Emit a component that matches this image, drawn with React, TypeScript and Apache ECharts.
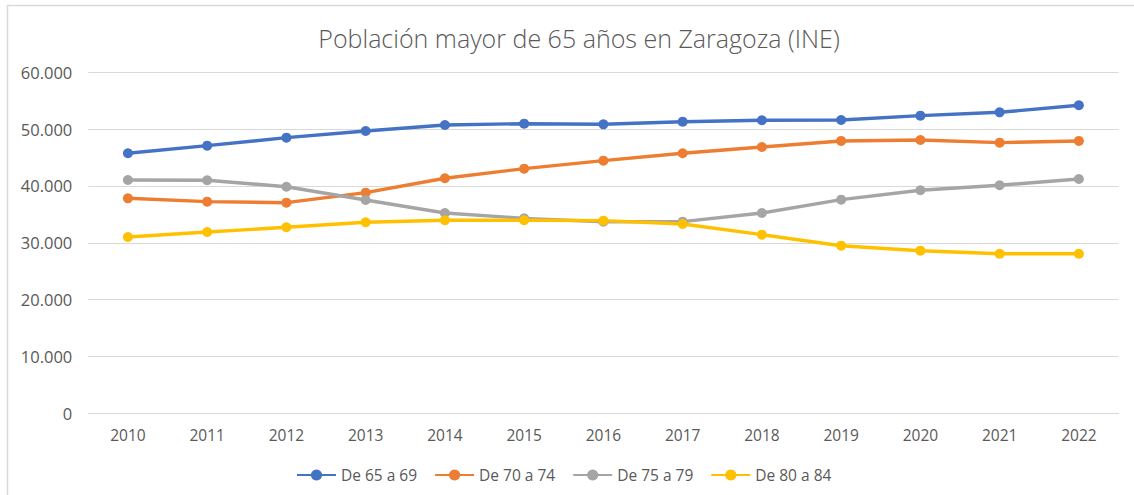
import React, { useEffect, useRef } from "react";
import * as echarts from "echarts";

const years = ["2010","2011","2012","2013","2014","2015","2016","2017","2018","2019","2020","2021","2022"];
const seriesNames = ["De 65 a 69", "De 70 a 74", "De 75 a 79", "De 80 a 84"];
const de65a69 = [45750, 47090, 48500, 49670, 50730, 50960, 50850, 51310, 51560, 51610, 52370, 52960, 54200];
const de70a74 = [37830, 37240, 37060, 38820, 41350, 43050, 44450, 45750, 46860, 47920, 48090, 47620, 47920];
const de75a79 = [41050, 41000, 39870, 37530, 35250, 34300, 33700, 33720, 35250, 37590, 39240, 40120, 41230];
const de80a84 = [31020, 31900, 32730, 33610, 33960, 33960, 33900, 33310, 31430, 29490, 28610, 28080, 28080];
const colors = ["#4472C4", "#ED7D31", "#A5A5A5", "#FFC000"];
const titleText = "Población mayor de 65 años en Zaragoza (INE)";

export default function App() {
  const ref = useRef<HTMLDivElement>(null);
  useEffect(() => {
    if (!ref.current) return;
    const chart = echarts.init(ref.current, null, { renderer: "svg" });
    const data = [de65a69, de70a74, de75a79, de80a84];
    chart.setOption({
      animation: false,
      backgroundColor: "#ffffff",
      title: {
        text: titleText,
        left: 574,
        textAlign: "center",
        top: 20,
        textStyle: { fontFamily: "Open Sans", fontWeight: 300, fontSize: 25, color: "#595959" },
      },
      graphic: [
        { type: "line", shape: { x1: 7, y1: 5.5, x2: 1134, y2: 5.5 }, style: { stroke: "#d9d9d9", lineWidth: 1.5 } },
        { type: "line", shape: { x1: 7.5, y1: 5, x2: 7.5, y2: 495 }, style: { stroke: "#d9d9d9", lineWidth: 1.5 } },
      ],
      legend: {
        left: 291,
        top: 462,
        itemWidth: 39,
        itemHeight: 14,
        itemGap: 17,
        data: seriesNames,
        textStyle: { fontFamily: "Open Sans", fontSize: 15.5, color: "#595959" },
      },
      grid: { left: 88.3, right: 15.5, top: 72.3, bottom: 81.7, containLabel: false },
      xAxis: {
        type: "category",
        data: years,
        boundaryGap: true,
        axisLine: { show: true, lineStyle: { color: "#d9d9d9", width: 1 } },
        axisTick: { show: false },
        axisLabel: { margin: 14, fontFamily: "Open Sans", fontSize: 15.5, color: "#595959" },
      },
      yAxis: {
        type: "value",
        min: 0,
        max: 60000,
        interval: 10000,
        axisLine: { show: false },
        axisTick: { show: false },
        splitLine: { lineStyle: { color: "#d9d9d9", width: 1 } },
        axisLabel: {
          margin: 16,
          fontFamily: "Open Sans",
          fontSize: 16.5,
          color: "#595959",
          formatter: (v: number) => v === 0 ? "0" : String(v / 1000) + ".000",
        },
      },
      series: seriesNames.map((name, i) => ({
        name,
        type: "line",
        data: data[i],
        color: colors[i],
        symbol: "circle",
        symbolSize: 10,
        lineStyle: { width: 3.4, color: colors[i] },
        itemStyle: { color: colors[i] },
      })),
    });
    return () => chart.dispose();
  }, []);
  return <div ref={ref} style={{ position: "fixed", left: 0, top: 0, width: 1134, height: 495 }} />;
}
